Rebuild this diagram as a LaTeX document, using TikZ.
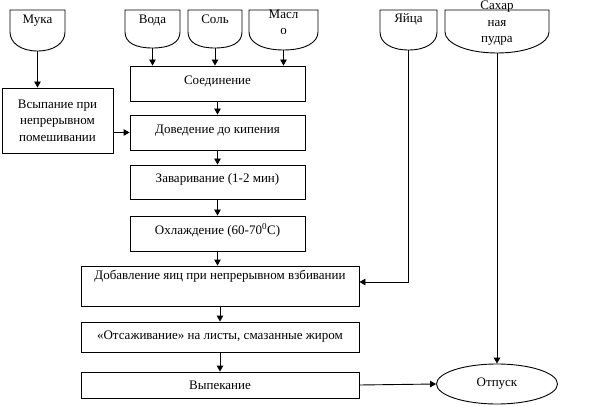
\documentclass[tikz,border=0pt]{standalone}
\usepackage{fontspec}
\setmainfont{Liberation Serif}
\usetikzlibrary{arrows.meta,shapes.geometric}

\begin{document}
\begin{tikzpicture}[x=1pt, y=-1pt, line width=.9pt,
	every node/.style={font=\fontsize{13}{16.5}\selectfont},
	stage/.style={draw, rectangle, inner sep=0pt, align=center},
	raised/.style={text height=9.5pt, text depth=8pt},
	arr/.style={-{Triangle[length=6pt,width=6.5pt]}}]
	\useasboundingbox (0,0) rectangle (594,406);
	
	% ingredients: name / left / right / bottom of curve / last baseline / text
	\foreach \nm/\xa/\xb/\yb/\yt/\txt in {muka/10/65/51/24/Мука, voda/125/180/48/24/Вода, sol/188/242/48/24/Соль, maslo/249/318/50/35/{Масл\\о}, yaica/380/437/50/23/Яйца, sahar/445/549/53/43/{Сахар\\ная\\пудра}} {
		\pgfmathsetmacro\xm{(\xa+\xb)/2}
		\pgfmathsetmacro\qw{(\xb-\xa)*0.3}
		\draw (\xm,\yb) .. controls (\xm-\qw,\yb) and (\xa,43) .. (\xa,32) -- (\xa,10) -- (\xb,10) -- (\xb,32) .. controls (\xb,43) and (\xm+\qw,\yb) .. (\xm,\yb);
		\node[anchor=base, align=center] (\nm) at (\xm,\yt) {\txt};
		\coordinate (\nm-b) at (\xm,\yb);
	}
	
	% process steps
	\node[stage, minimum width=111, minimum height=65] (vsyp) at (57.5,120.5) {Всыпание при\\непрерывном\\помешивании};
	\node[stage, raised, minimum width=175, minimum height=35] (soed) at (217.5,83.5) {Соединение};
	\node[stage, raised, minimum width=175, minimum height=35] (dovod) at (217.5,132.5) {Доведение до кипения};
	\node[stage, raised, minimum width=175, minimum height=34] (zavar) at (217.5,182) {Заваривание (1-2 мин)};
	\node[stage, raised, minimum width=175, minimum height=35] (ohl) at (217.5,233.5) {Охлаждение (60-70\textsuperscript{0}С)};
	\node[stage, minimum width=278, minimum height=40] (dob) at (220,286) {Добавление яиц при непрерывном взбивании\\\strut};
	\node[stage, minimum width=278, minimum height=30] (ots) at (220,337) {«Отсаживание» на листы, смазанные жиром};
	\node[stage, minimum width=278, minimum height=26] (vyp) at (220,385) {Выпекание};
	\node[draw, ellipse, inner sep=0pt, minimum width=121, minimum height=40] (otpusk) at (497,384) {Отпуск};
	
	% connectors
	\draw[arr] (muka-b) -- (muka-b |- vsyp.north);
	\foreach \nm in {voda,sol,maslo}
		\draw[arr] (\nm-b) -- (\nm-b |- soed.north);
	\draw[arr] (soed.south) -- (dovod.north);
	\draw[arr] (vsyp.east |- dovod.west) -- (dovod.west);
	\draw[arr] (dovod.south) -- (zavar.north);
	\draw[arr] (zavar.south) -- (ohl.north);
	\draw[arr] (ohl.south) -- (ohl.south |- dob.north);
	\draw[arr] (yaica-b) |- ([yshift=4pt]dob.east);
	\draw[arr] (dob.south) -- (ots.north);
	\draw[arr] (ots.south) -- (vyp.north);
	\draw[arr] (vyp.east) -- (otpusk.west);
	\draw[arr] (sahar-b) -- (otpusk.north);
\end{tikzpicture}
\end{document}
